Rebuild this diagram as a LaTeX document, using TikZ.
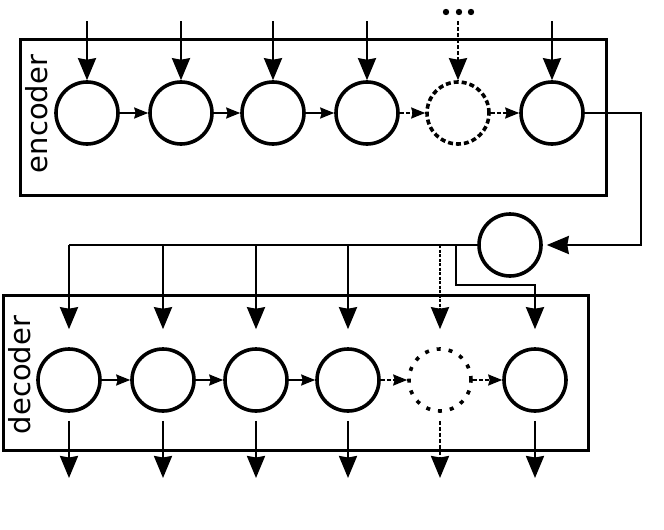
\documentclass[tikz,border=0pt]{standalone}
\usepackage{fontspec}
\setmainfont{DejaVu Sans}
\usetikzlibrary{arrows.meta}
\begin{document}
\begin{tikzpicture}[x=1pt,y=-1pt,
  cell/.style={circle, draw, line width=3.6pt, minimum size=62pt, inner sep=0pt},
  dcell/.style={cell, dash pattern=on 5pt off 3pt},
  ddcell/.style={cell, dash pattern=on 4pt off 8pt},
  frame/.style={draw, line width=2.6pt, inner sep=0pt, anchor=north west},
  wire/.style={line width=2.4pt},
  big/.style={wire, -{Stealth[length=22pt,width=18pt,inset=1.5pt]}},
  small/.style={line width=2pt, -{Stealth[length=14pt,width=11pt,inset=1.5pt]}},
  dsh/.style={dash pattern=on 4pt off 2pt},
  label/.style={rotate=90, font=\fontsize{29}{29}\selectfont, inner sep=0pt}
]
\useasboundingbox (0,0) rectangle (664,530);

% boxes
\node[frame, minimum width=586pt, minimum height=156pt] (encbox) at (19,38) {};
\node[frame, minimum width=585pt, minimum height=155pt] (decbox) at (2,294) {};
\node[label] (enclabel) at (37,114) {encoder};
\node[label] (declabel) at (20,375) {decoder};

% encoder cells
\node[cell]  (e1) at (87,113) {};
\node[cell]  (e2) at (181,113) {};
\node[cell]  (e3) at (273,113) {};
\node[cell]  (e4) at (367,113) {};
\node[dcell] (e5) at (458,113) {};
\node[cell]  (e6) at (552,113) {};

% middle cell
\node[cell] (m) at (510,245) {};

% decoder cells
\node[cell]   (d1) at (69,380) {};
\node[cell]   (d2) at (163,380) {};
\node[cell]   (d3) at (256,380) {};
\node[cell]   (d4) at (348,380) {};
\node[ddcell] (d5) at (440,380) {};
\node[cell]   (d6) at (535,380) {};

% helper coordinates
\coordinate (top) at (0,21);
\coordinate (bot) at (0,478);
\coordinate (turn) at (641,113);
\coordinate (tap) at (456,245);
\coordinate (jog) at (456,285);

% dots
\foreach \i/\xx in {1/446,2/459,3/471} \fill (\xx,12) circle (3.2pt) coordinate (dot\i);

% encoder inputs
\foreach \n in {e1,e2,e3,e4,e6} \draw[big] (\n |- top) -- (\n.north);
\draw[big, dsh] (e5 |- top) -- (e5.north);

% encoder chain
\draw[small] (e1.east) -- (e2.west);
\draw[small] (e2.east) -- (e3.west);
\draw[small] (e3.east) -- (e4.west);
\draw[small, dsh] (e4.east) -- (e5.west);
\draw[small, dsh] (e5.east) -- (e6.west);

% encoder to middle
\draw[big, shorten >=4pt] (e6.east) -- (turn) |- (m.east);

% bus
\draw[wire] (m.west) -- (d1 |- m.west);
\foreach \n in {d1,d2,d3,d4} \draw[big] (\n |- m.west) -- ([yshift=18pt]\n.north);
\draw[big, dash pattern=on 3pt off 1.5pt] (d5 |- m.west) -- ([yshift=18pt]d5.north);
\draw[big] (tap) -- (jog) -- (d6 |- jog) -- ([yshift=18pt]d6.north);

% decoder chain
\draw[small] (d1.east) -- (d2.west);
\draw[small] (d2.east) -- (d3.west);
\draw[small] (d3.east) -- (d4.west);
\draw[small, dsh] (d4.east) -- (d5.west);
\draw[small, dsh] (d5.east) -- (d6.west);

% outputs
\foreach \n in {d1,d2,d3,d4,d6} \draw[big] ([yshift=-8pt]\n.south) -- (\n |- bot);
\draw[big, dsh] ([yshift=-8pt]d5.south) -- (d5 |- bot);
\end{tikzpicture}
\end{document}
